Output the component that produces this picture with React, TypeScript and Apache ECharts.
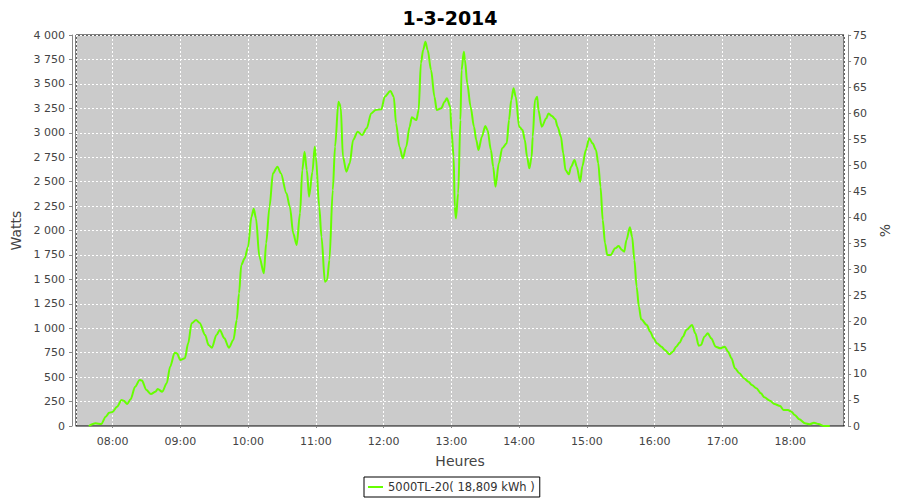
import React, { useEffect, useRef } from "react";
import * as echarts from "echarts";

const TITLE = "1-3-2014";
const SERIES_NAME = "5000TL-20( 18,809 kWh )";
const X_MIN = "07:27:40";
const X_MAX = "18:47:40";
const W_MIN = 0;
const W_MAX = 4000;
const W_STEP = 250;
const P_MIN = 0;
const P_MAX = 75;
const P_STEP = 5;

const times: string[] = [
  "07:39","07:45","07:50","07:54","07:57","08:00","08:04","08:08","08:10","08:13",
  "08:16","08:20","08:24","08:26","08:30","08:34","08:38","08:40","08:44","08:48",
  "08:51","08:55","08:57","09:00","09:04","09:07","09:10","09:14","09:17","09:22",
  "09:25","09:28","09:32","09:35","09:39","09:43","09:47","09:50","09:52","09:54",
  "09:57","10:00","10:03","10:05","10:07","10:10","10:14","10:16","10:19","10:22",
  "10:26","10:29","10:34","10:37","10:40","10:43","10:46","10:48","10:50","10:52",
  "10:54","10:57","10:59","11:00","11:03","11:05","11:08","11:10","11:12","11:15",
  "11:17","11:20","11:22","11:24","11:27","11:30","11:33","11:37","11:41","11:45",
  "11:49","11:53","11:58","12:01","12:06","12:09","12:11","12:14","12:17","12:20",
  "12:23","12:25","12:29","12:31","12:33","12:35","12:37","12:39","12:42","12:45",
  "12:47","12:51","12:54","12:56","12:59","13:00","13:02","13:03","13:04","13:06",
  "13:08","13:09","13:11","13:12","13:14","13:17","13:20","13:22","13:24","13:27",
  "13:30","13:32","13:35","13:37","13:39","13:42","13:45","13:49","13:51","13:53",
  "13:55","13:57","14:00","14:03","14:05","14:07","14:09","14:11","14:12","14:14",
  "14:16","14:17","14:20","14:24","14:26","14:29","14:32","14:34","14:37","14:39",
  "14:41","14:44","14:46","14:49","14:51","14:54","14:56","14:59","15:02","15:05",
  "15:08","15:10","15:12","15:14","15:16","15:18","15:21","15:25","15:28","15:31",
  "15:33","15:35","15:38","15:40","15:42","15:44","15:46","15:48","15:53","15:56",
  "15:59","16:02","16:06","16:09","16:13","16:16","16:19","16:22","16:25","16:28",
  "16:33","16:36","16:39","16:41","16:44","16:47","16:50","16:54","16:58","17:02",
  "17:05","17:08","17:11","17:15","17:19","17:23","17:26","17:30","17:34","17:37",
  "17:42","17:46","17:51","17:54","17:58","18:01","18:04","18:08","18:13","18:17",
  "18:21","18:25","18:30","18:35"
];

const watts: number[] = [
  0,28,20,95,136,143,198,266,259,225,
  273,402,470,465,368,327,351,378,351,437,
  607,750,745,675,692,846,1051,1084,1057,931,
  829,801,931,982,897,801,880,1084,1357,1647,
  1715,1834,2141,2223,2125,1732,1562,1869,2243,2585,
  2653,2585,2380,2243,1971,1852,2176,2619,2806,2619,
  2346,2600,2857,2755,2243,1937,1476,1494,1698,2414,
  2857,3318,3267,2755,2602,2687,2926,3011,2977,3045,
  3198,3233,3240,3369,3427,3369,3097,2857,2738,2857,
  3062,3158,3130,3233,3711,3846,3931,3846,3642,3369,
  3233,3250,3318,3352,3267,3028,2755,2243,2125,2380,
  3130,3642,3829,3744,3506,3267,3062,2926,2823,2960,
  3069,3028,2823,2653,2448,2687,2841,2892,3130,3335,
  3455,3369,3062,3028,2926,2755,2636,2750,2960,3335,
  3369,3233,3062,3148,3198,3171,3137,3062,2960,2790,
  2619,2575,2653,2721,2653,2499,2660,2823,2943,2892,
  2823,2687,2448,2107,1869,1749,1749,1818,1841,1800,
  1783,1903,2033,1937,1698,1425,1220,1092,1033,965,
  897,846,811,777,733,760,811,852,914,982,
  1033,948,822,829,914,948,897,811,795,811,
  760,692,590,539,488,453,419,386,334,294,
  259,225,205,164,164,146,113,69,28,17,
  34,20,0,0
];

function toTs(hm: string): number {
  const p = hm.split(":").map(Number);
  return new Date(2014, 2, 1, p[0], p[1], p[2] || 0).getTime();
}

function pad(n: number): string {
  return n < 10 ? "0" + n : String(n);
}

function fmtThousands(v: number): string {
  const s = String(Math.round(v));
  return s.replace(/\B(?=(\d{3})+(?!\d))/g, " ");
}

const FONT = "DejaVu Sans";
const LABEL_COLOR = "#444444";

export default function App() {
  const ref = useRef<HTMLDivElement>(null);

  useEffect(() => {
    document.body.style.margin = "0";
    if (!ref.current) return;
    const chart = echarts.init(ref.current, undefined, { renderer: "svg" });
    const data = times.map((t, i) => [toTs(t), watts[i]]);

    chart.setOption({
      animation: false,
      backgroundColor: "#ffffff",
      title: {
        text: TITLE,
        left: "center",
        top: 3,
        textStyle: { fontFamily: FONT, fontSize: 19, fontWeight: "bold", color: "#000000" },
      },
      legend: {
        left: 364,
        top: 477,
        padding: [4, 5, 4, 4],
        borderColor: "#000000",
        borderWidth: 1,
        backgroundColor: "#ffffff",
        icon: "rect",
        itemWidth: 15,
        itemHeight: 2,
        textStyle: { fontFamily: FONT, fontSize: 11.5, color: "#333333" },
        data: [SERIES_NAME],
      },
      grid: {
        left: 76,
        top: 35,
        width: 770,
        height: 391,
        show: true,
        backgroundColor: "#cbcbcb",
        borderColor: "#000000",
        borderWidth: 1,
        containLabel: false,
      },
      xAxis: {
        type: "time",
        min: toTs(X_MIN),
        max: toTs(X_MAX),
        minInterval: 3600 * 1000,
        maxInterval: 3600 * 1000,
        offset: 4,
        name: "Heures",
        nameLocation: "middle",
        nameGap: 24,
        nameTextStyle: { fontFamily: FONT, fontSize: 14, color: LABEL_COLOR },
        axisLine: { show: true, lineStyle: { color: "#888888", width: 1 } },
        axisTick: { show: true, length: 2, lineStyle: { color: "#888888" } },
        axisLabel: {
          fontFamily: FONT,
          fontSize: 11,
          color: LABEL_COLOR,
          margin: 6,
          showMinLabel: false,
          showMaxLabel: false,
          formatter: (v: number) => {
            const d = new Date(v);
            return pad(d.getHours()) + ":" + pad(d.getMinutes());
          },
        },
        splitLine: { show: true, lineStyle: { color: "#ffffff", type: [2, 2], width: 1 } },
      },
      yAxis: [
        {
          type: "value",
          min: W_MIN,
          max: W_MAX,
          interval: W_STEP,
          position: "left",
          offset: 4,
          name: "Watts",
          nameLocation: "middle",
          nameGap: 41,
          nameTextStyle: { fontFamily: FONT, fontSize: 14, color: LABEL_COLOR },
          axisLine: { show: true, lineStyle: { color: "#888888", width: 1 } },
          axisTick: { show: true, length: 3, lineStyle: { color: "#888888" } },
          axisLabel: {
            fontFamily: FONT,
            fontSize: 11,
            color: LABEL_COLOR,
            margin: 7,
            formatter: (v: number) => fmtThousands(v),
          },
          splitLine: { show: true, lineStyle: { color: "#ffffff", type: [2, 2], width: 1 } },
        },
        {
          type: "value",
          min: P_MIN,
          max: P_MAX,
          interval: P_STEP,
          position: "right",
          offset: 4,
          name: "%",
          nameLocation: "middle",
          nameGap: 24,
          nameTextStyle: { fontFamily: FONT, fontSize: 14, color: LABEL_COLOR },
          axisLine: { show: true, lineStyle: { color: "#888888", width: 1 } },
          axisTick: { show: true, length: 3, lineStyle: { color: "#888888" } },
          axisLabel: { fontFamily: FONT, fontSize: 11, color: LABEL_COLOR, margin: 5 },
          splitLine: { show: false },
        },
      ],
      series: [
        {
          name: SERIES_NAME,
          type: "line",
          yAxisIndex: 0,
          data,
          showSymbol: false,
          symbol: "none",
          smooth: 0.3,
          smoothMonotone: "x",
          lineStyle: { color: "#66ff00", width: 2 },
          itemStyle: { color: "#66ff00" },
        },
      ],
    });

    return () => chart.dispose();
  }, []);

  return <div ref={ref} style={{ width: 900, height: 500 }} />;
}
